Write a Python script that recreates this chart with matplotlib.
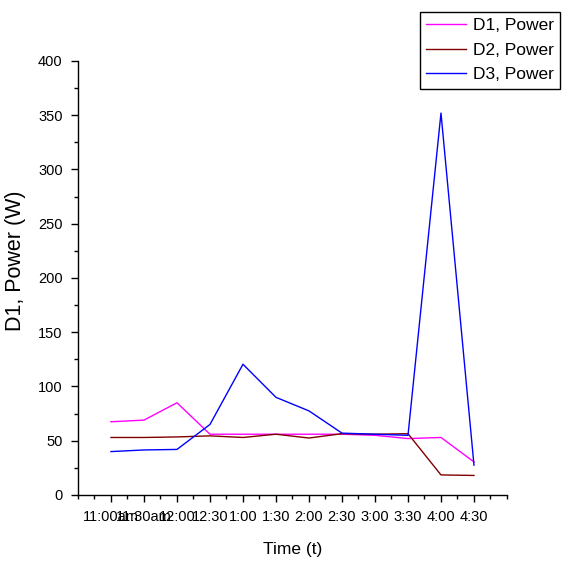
import numpy as np
import matplotlib
matplotlib.use("Agg")
import matplotlib.pyplot as plt
from matplotlib.ticker import MultipleLocator

plt.rcParams['font.family'] = ['Liberation Sans', 'DejaVu Sans']

# time slots and measured power for the three devices
times = ["11:00am", "11:30am", "12:00", "12:30", "1:00", "1:30",
         "2:00", "2:30", "3:00", "3:30", "4:00", "4:30"]
d1_power = [67.5, 69, 85, 56, 56, 56, 56, 56, 55, 52, 53, 30.5]
d2_power = [53, 53, 53.5, 54.5, 53, 56, 52.5, 56.5, 56, 56.5, 18.5, 18]
d3_power = [40, 41.5, 42, 65, 120.5, 90, 77.5, 57, 56, 55, 352, 27.5]

fig = plt.figure(figsize=(5.63, 5.63), dpi=100)
ax = fig.add_axes([0.1385, 0.1208, 0.762, 0.7709])

x = np.arange(len(times))
ax.plot(x, d1_power, color='#ff00ff', lw=1, label='D1, Power')
ax.plot(x, d2_power, color='#800000', lw=1, label='D2, Power')
ax.plot(x, d3_power, color='#0000ff', lw=1, label='D3, Power')

ax.set_xlim(-1, 12)
ax.set_ylim(0, 400)
ax.set_xticks(x)
ax.set_xticklabels(times)
ax.xaxis.set_minor_locator(MultipleLocator(0.5))
ax.yaxis.set_major_locator(MultipleLocator(50))
ax.yaxis.set_minor_locator(MultipleLocator(25))

for side in ['top', 'right']:
    ax.spines[side].set_visible(False)
for side in ['left', 'bottom']:
    ax.spines[side].set_linewidth(1)

ax.tick_params(which='major', direction='out', length=5, width=1, labelsize=10.5, pad=6)
ax.tick_params(which='minor', direction='out', length=3, width=1)

ax.set_xlabel('Time (t)', fontsize=12.5, labelpad=13)
ax.set_ylabel('D1, Power (W)', fontsize=15.5)
ax.yaxis.set_label_coords(-0.12, 0.54)

fig.legend(loc='upper right', bbox_to_anchor=(0.995, 0.979), fontsize=12.5,
           frameon=True, fancybox=False, edgecolor='black', framealpha=1,
           handlelength=2.3, borderpad=0.35, labelspacing=0.55, handletextpad=0.4,
           borderaxespad=0)

fig.savefig('out.png', dpi=100)
